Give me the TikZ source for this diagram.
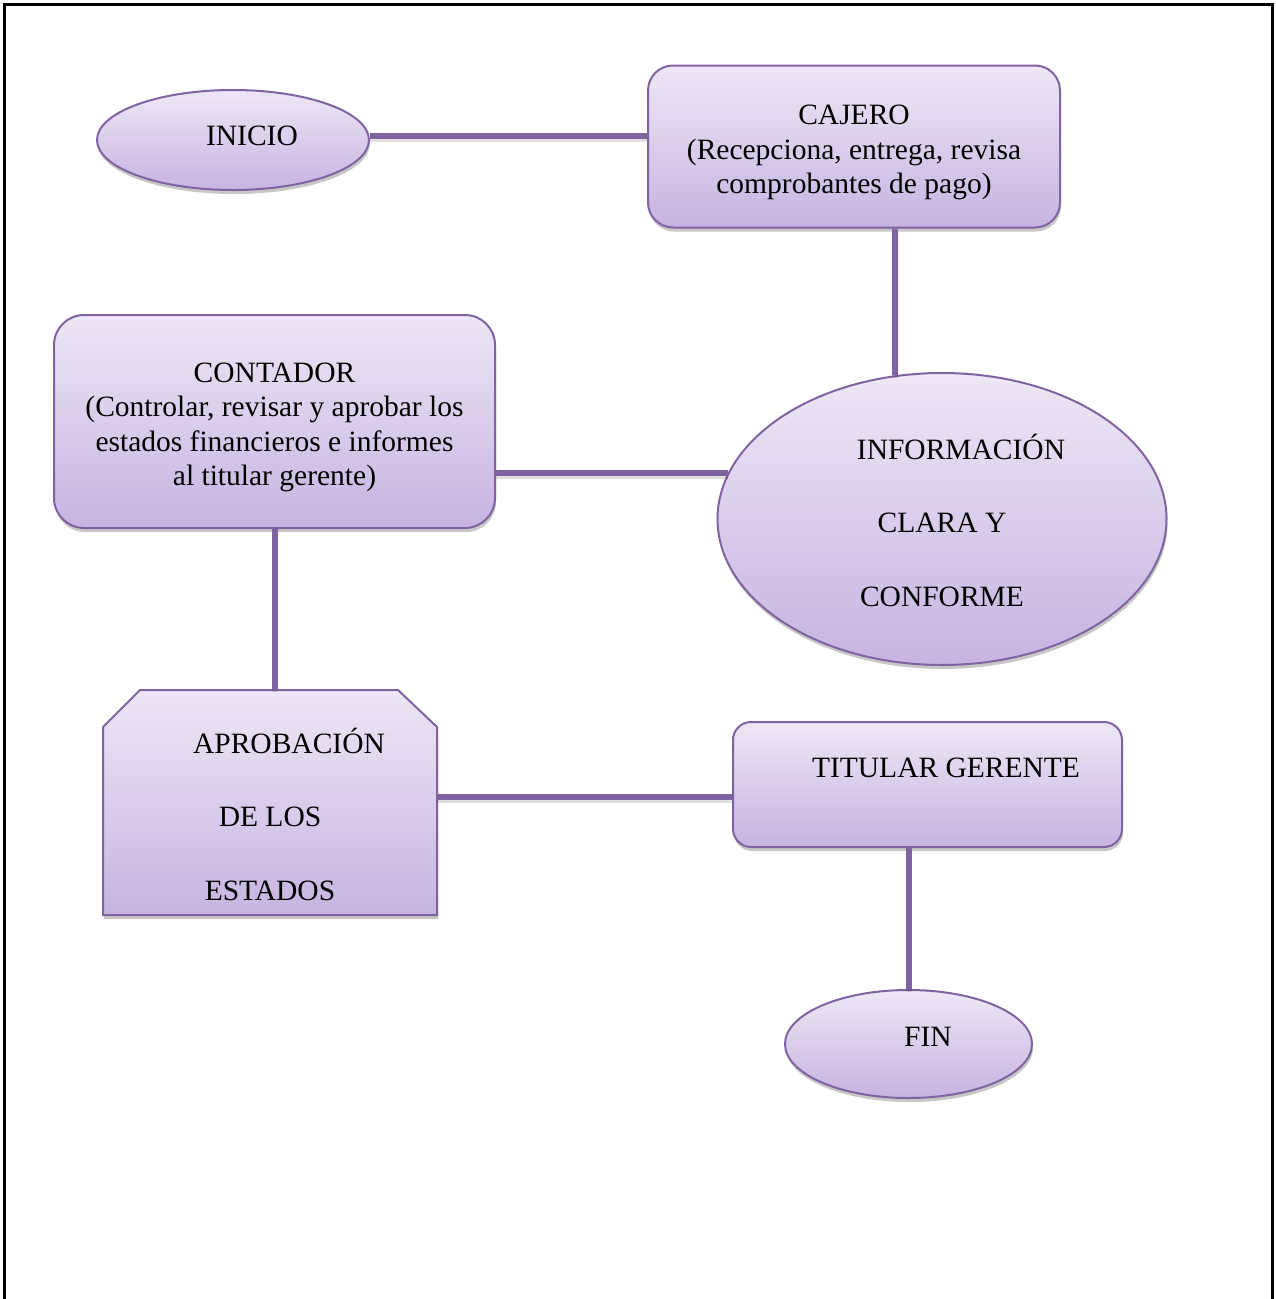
\documentclass[tikz,border=0pt]{standalone}
\usepackage{fontspec}
\setmainfont{Liberation Serif}
\usetikzlibrary{shapes.geometric,shadows}
\definecolor{pborder}{HTML}{8064A2}
\definecolor{pline}{HTML}{7F63A1}
\definecolor{ptop}{HTML}{EDE7F6}
\definecolor{pbot}{HTML}{C6B4E1}
\tikzset{
  shapebox/.style={draw=pborder, line width=2pt, top color=ptop, bottom color=pbot,
    drop shadow={shadow xshift=1pt, shadow yshift=-4pt, opacity=0.22, fill=black}},
  roundbox/.style={shapebox, rectangle, rounded corners=#1},
  ovalbox/.style={shapebox, ellipse, inner sep=0pt},
  txt/.style={font=\fontsize{29.5}{34.5}\selectfont, align=center, text=black},
  wtxt/.style={font=\fontsize{29.5}{73.5}\selectfont, align=center, text=black},
  conn/.style={draw=pline, line width=6pt,
    preaction={draw=black, opacity=0.12, line width=6pt, transform canvas={yshift=-2.5pt}}},
}
\begin{document}
\begin{tikzpicture}[x=1pt,y=-1pt]
\useasboundingbox (0,0) rectangle (1276,1299);
\draw[line width=3pt] (4,1299) -- (4,4) -- (1272,4) -- (1272,1299);

% shapes
\node[ovalbox, minimum width=272pt, minimum height=100pt,
      label={[txt, xshift=19pt, yshift=4pt]center:INICIO}] (inicio) at (233,140) {};
\node[roundbox=25pt, minimum width=412pt, minimum height=162pt,
      label={[txt, yshift=-6pt]center:CAJERO\\(Recepciona, entrega, revisa\\comprobantes de pago)}] (cajero) at (854,146.5) {};
\node[roundbox=30pt, minimum width=441pt, minimum height=213pt,
      label={[txt, yshift=-6pt]center:CONTADOR\\(Controlar, revisar y aprobar los\\estados financieros e informes\\al titular gerente)}] (contador) at (274.5,421.5) {};
\node[ovalbox, minimum width=449pt, minimum height=292pt,
      label={[wtxt, yshift=-1pt]center:\hspace*{38pt}INFORMACIÓN\\CLARA Y\\CONFORME}] (info) at (942,519) {};
\path[shapebox] (103,727) -- (140,690) -- (398,690) -- (437,727) -- (437,915) -- (103,915) -- cycle;
\node[minimum width=334pt, minimum height=225pt, inner sep=0pt,
      label={[wtxt, yshift=-11.5pt]center:\hspace*{38pt}APROBACIÓN\\DE LOS\\ESTADOS}] (aprob) at (270,802.5) {};
\node[roundbox=18pt, minimum width=389pt, minimum height=125pt,
      label={[txt, xshift=18.5pt, yshift=16.5pt]center:TITULAR GERENTE}] (titular) at (927.5,784.5) {};
\node[ovalbox, minimum width=247pt, minimum height=108pt,
      label={[txt, xshift=19.5pt, yshift=7pt]center:FIN}] (fin) at (908.5,1044) {};

% connectors
\draw[conn] ([yshift=4pt]inicio.east) -- ([yshift=4pt]inicio.east -| cajero.west);
\draw[conn] (info.108) -- (info.108 |- cajero.south);
\draw[conn] (contador.east |- info.168.5) -- (info.168.5);
\draw[conn] (contador.south) -- (contador.south |- aprob.north);
\draw[conn] ([yshift=5.5pt]aprob.east) -- ([yshift=5.5pt]aprob.east -| titular.west);
\draw[conn] (fin.north) -- (fin.north |- titular.south);
\end{tikzpicture}
\end{document}
